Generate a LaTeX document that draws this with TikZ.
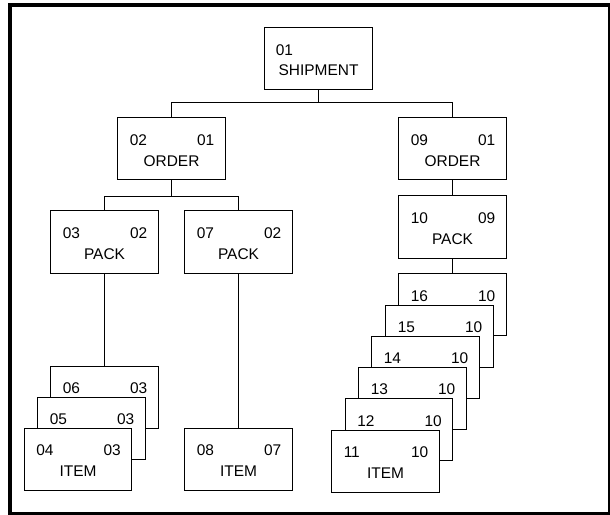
\documentclass[tikz,border=0pt]{standalone}
\usepackage{fontspec}
\setmainfont{Liberation Sans}

\tikzset{
  rec/.style={draw, fill=white, line width=0.025cm, minimum width=2.675cm,
              minimum height=1.55cm, inner sep=0pt},
  txt/.style={inner sep=0pt, font=\fontsize{11}{13}\selectfont},
  link/.style={line width=0.025cm},
  frame/.style={line width=0.1cm}
}

% record box: name, x, y, left number, right number, label
\newcommand{\recbox}[6]{%
  \node [rec] (#1) at (#2,#3) {};
  \node [txt, anchor=west] (#1-l) at ([shift={(12,23)}]#1.north west) {#4};
  \node [txt, anchor=east] (#1-r) at ([shift={(-11,23)}]#1.north east) {#5};
  \node [txt] (#1-n) at ([shift={(0,44)}]#1.north) {#6};
}

\begin{document}
\begin{tikzpicture}[x=0.025cm, y=-0.025cm]
  \useasboundingbox (0,0) rectangle (610,514);

  % Drawing the frame
  \draw [frame] (10,5) rectangle (610,514);

  % Root record
  \node [rec] (ship) at (318.5,58.5) {};
  \node [txt, anchor=west] (ship-l) at ([shift={(11,23)}]ship.north west) {01};
  \node [txt] (ship-n) at ([shift={(0,43)}]ship.north) {SHIPMENT};

  % Orders
  \recbox{ordl}{171.5}{148.5}{02}{01}{ORDER}
  \recbox{ordr}{452.5}{148.5}{09}{01}{ORDER}

  % Packs
  \recbox{packa}{104.5}{242}{03}{02}{PACK}
  \recbox{packb}{238.5}{242}{07}{02}{PACK}
  \recbox{packc}{452.5}{227}{10}{09}{PACK}

  % Items of pack 03 (back to front)
  \recbox{itemf}{104.5}{397}{06}{03}{}
  \recbox{iteme}{91.5}{428}{05}{03}{}
  \recbox{itemd}{78}{459}{04}{03}{ITEM}

  % Item of pack 07
  \recbox{itemh}{238.5}{459}{08}{07}{ITEM}

  % Items of pack 10 (back to front)
  \recbox{itemp}{452.5}{304.5}{16}{10}{}
  \recbox{itemo}{439.5}{336}{15}{10}{}
  \recbox{itemn}{425.5}{367}{14}{10}{}
  \recbox{itemm}{412.5}{398}{13}{10}{}
  \recbox{iteml}{399}{429.5}{12}{10}{}
  \recbox{itemk}{385.5}{461}{11}{10}{ITEM}

  % Drawing the links
  \draw [link] (ship.south) -- ++(0,12) -| (ordl.north);
  \draw [link] (ship.south) -- ++(0,12) -| (ordr.north);
  \draw [link] (ordl.south) -- ++(0,16) -| (packa.north);
  \draw [link] (ordl.south) -- ++(0,16) -| (packb.north);
  \draw [link] (ordr.south) -- (packc.north);
  \draw [link] (packa.south) -- (itemf.north);
  \draw [link] (packb.south) -- (itemh.north);
  \draw [link] (packc.south) -- (itemp.north);
\end{tikzpicture}
\end{document}
